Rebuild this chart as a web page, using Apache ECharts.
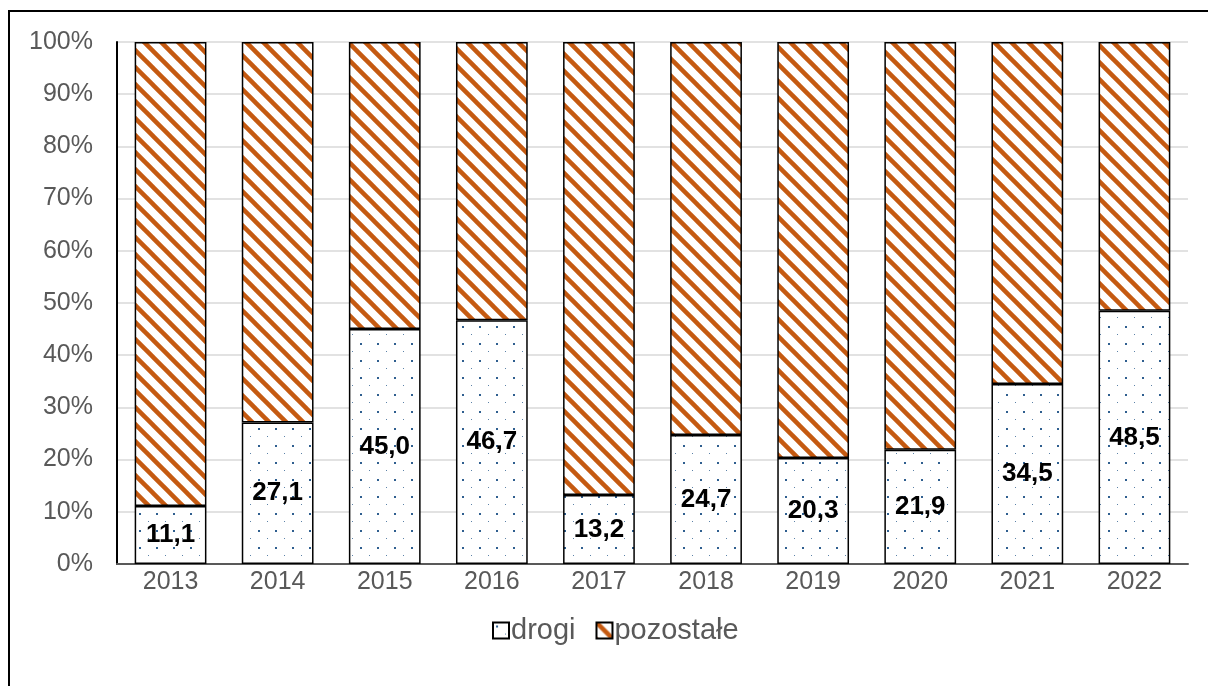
<!DOCTYPE html>
<html>
<head>
<meta charset="utf-8">
<script src="https://cdn.jsdelivr.net/npm/echarts@6/dist/echarts.min.js"></script>
<style>
  html, body { margin: 0; padding: 0; background: #fff; }
  #chart { width: 1208px; height: 686px; }
</style>
</head>
<body>
<div id="chart"></div>
<script>
var years = ['2013', '2014', '2015', '2016', '2017', '2018', '2019', '2020', '2021', '2022'];
var drogi = [11.1, 27.1, 45.0, 46.7, 13.2, 24.7, 20.3, 21.9, 34.5, 48.5];
var pozostale = [88.9, 72.9, 55.0, 53.3, 86.8, 75.3, 79.7, 78.1, 65.5, 51.5];
var yTicks = [0, 10, 20, 30, 40, 50, 60, 70, 80, 90, 100];

// wzor kropkowany (drogi)
function dotPattern() {
    var c = document.createElement('canvas');
    c.width = 17; c.height = 17;
    var ctx = c.getContext('2d');
    ctx.fillStyle = '#ffffff';
    ctx.fillRect(0, 0, 17, 17);
    ctx.fillStyle = '#2f5f8f';
    ctx.fillRect(3, 3, 2, 2);
    ctx.fillStyle = '#5c82a8';
    ctx.fillRect(12, 11, 1, 1);
    return c;
}

// wzor ukosny (pozostale)
function stripePattern() {
    var s = 17;
    var c = document.createElement('canvas');
    c.width = s; c.height = s;
    var ctx = c.getContext('2d');
    ctx.fillStyle = '#ffffff';
    ctx.fillRect(0, 0, s, s);
    ctx.strokeStyle = '#c55a11';
    ctx.lineWidth = 4.5;
    ctx.lineCap = 'square';
    [-s, 0, s].forEach(function (o) {
        ctx.beginPath();
        ctx.moveTo(o - 2, -2);
        ctx.lineTo(o + s + 2, s + 2);
        ctx.stroke();
    });
    return c;
}

var dots = { image: dotPattern(), repeat: 'repeat' };
var stripes = { image: stripePattern(), repeat: 'repeat' };

var myChart = echarts.init(document.getElementById('chart'));

var option = {
    animation: false,
    backgroundColor: '#ffffff',
    textStyle: { fontFamily: 'Liberation Sans, Arial, sans-serif' },
    graphic: [{
        type: 'rect',
        shape: { x: 9, y: 11, width: 1300, height: 800 },
        style: { fill: 'none', stroke: '#000', lineWidth: 2 },
        silent: true
    }],
    grid: {
        left: 117,
        right: 20,
        top: 42,
        bottom: 122
    },
    legend: {
        top: 611,
        left: 487,
        itemWidth: 16,
        itemHeight: 16,
        itemGap: 20,
        textStyle: { fontSize: 29, color: '#595959', padding: [0, 0, 0, -3] },
        data: [
            { name: 'drogi', icon: 'rect' },
            { name: 'pozostałe', icon: 'rect' }
        ]
    },
    xAxis: {
        type: 'category',
        data: years,
        axisLine: { lineStyle: { color: '#595959', width: 2 } },
        axisTick: { show: false },
        axisLabel: { fontSize: 25, color: '#595959', margin: 6 }
    },
    yAxis: {
        type: 'value',
        min: yTicks[0],
        max: yTicks[yTicks.length - 1],
        interval: 10,
        axisLine: { show: true, lineStyle: { color: '#000', width: 2 } },
        axisTick: { show: false },
        splitLine: { lineStyle: { color: '#d9d9d9', width: 1.5 } },
        axisLabel: { fontSize: 25, color: '#595959', margin: 24, formatter: '{value}%' }
    },
    series: [{
        name: 'drogi',
        type: 'bar',
        stack: 'all',
        barCategoryGap: '33%',
        data: drogi,
        itemStyle: { color: dots, borderColor: '#000', borderWidth: 1.5 },
        label: {
            show: true,
            position: 'inside',
            fontSize: 26,
            fontWeight: 'bold',
            color: '#000',
            formatter: function (p) { return p.value.toFixed(1).replace('.', ','); }
        }
    }, {
        name: 'pozostałe',
        type: 'bar',
        stack: 'all',
        data: pozostale,
        itemStyle: { color: stripes, borderColor: '#000', borderWidth: 1.5 }
    }]
};
myChart.setOption(option);
</script>
</body>
</html>
